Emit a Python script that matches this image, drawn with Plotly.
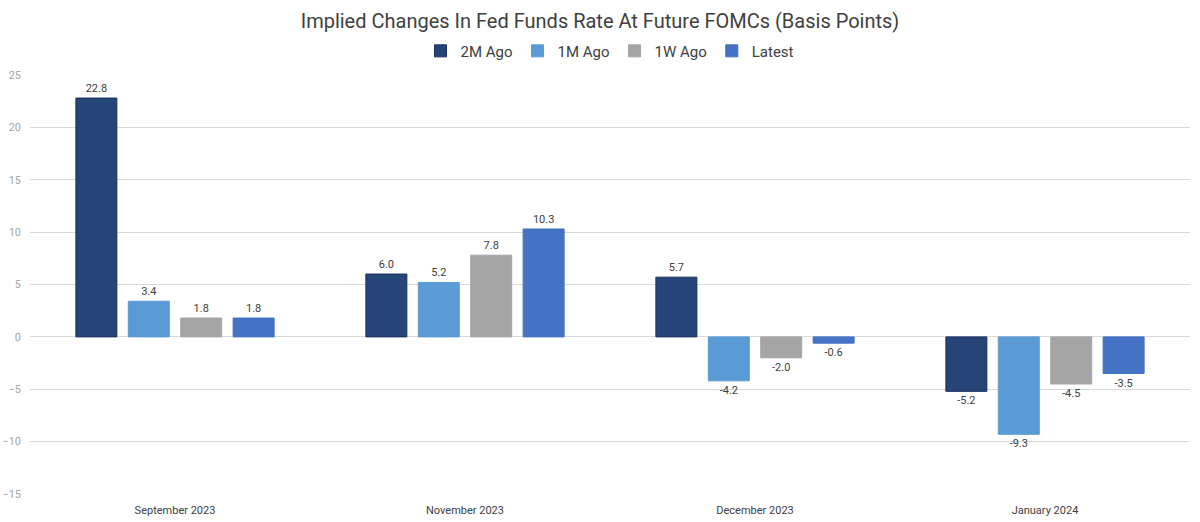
import plotly.graph_objects as go

categories = ["September 2023", "November 2023", "December 2023", "January 2024"]
series_names = ["2M Ago", "1M Ago", "1W Ago", "Latest"]
vals_2m = [22.8, 6.0, 5.7, -5.2]
vals_1m = [3.4, 5.2, -4.2, -9.3]
vals_1w = [1.8, 7.8, -2.0, -4.5]
vals_latest = [1.8, 10.3, -0.6, -3.5]
y_ticks = [-15, -10, -5, 0, 5, 10, 15, 20, 25]

colors = ["#264478", "#5B9BD5", "#A5A5A5", "#4472C4"]
lines = ["#1a3060", "#5B9BD5", "#A5A5A5", "#4472C4"]
font_family = "Roboto, sans-serif"

fig = go.Figure()
for name, vals, c, lc in zip(series_names, [vals_2m, vals_1m, vals_1w, vals_latest], colors, lines):
    fig.add_trace(go.Bar(
        x=categories, y=vals, name=name,
        marker=dict(color=c, line=dict(color=lc, width=1)),
        text=[f"{v:.1f}" for v in vals], textposition="outside",
        textfont=dict(size=11, color="#404040", family=font_family),
        cliponaxis=False,
    ))

fig.update_layout(
    width=1200, height=522,
    margin=dict(l=30, r=10, t=75, b=28),
    paper_bgcolor="white", plot_bgcolor="white",
    font=dict(family=font_family),
    title=dict(text="Implied Changes In Fed Funds Rate At Future FOMCs (Basis Points)",
               x=0.5, xanchor="center", y=0.96, yanchor="middle",
               font=dict(size=20, color="#404040", family=font_family)),
    legend=dict(orientation="h", x=0.5, xanchor="center", y=1.057, yanchor="middle",
                font=dict(size=15, color="#404040", family=font_family),
                itemwidth=30, traceorder="normal"),
    barmode="group", bargap=0.277, bargroupgap=0.218,
    xaxis=dict(showgrid=False, showline=False, ticks="", automargin=False,
               ticklabelstandoff=8,
               tickfont=dict(size=11, color="#404040", family=font_family)),
    yaxis=dict(range=[-15, 25], tickvals=y_ticks, showgrid=True, gridcolor="#d9d9d9",
               zeroline=True, zerolinecolor="#d9d9d9", zerolinewidth=1, automargin=False,
               tickfont=dict(size=11, color="#a6a6a6", family=font_family), ticklabelstandoff=8),
)
fig.write_html("out.html")
